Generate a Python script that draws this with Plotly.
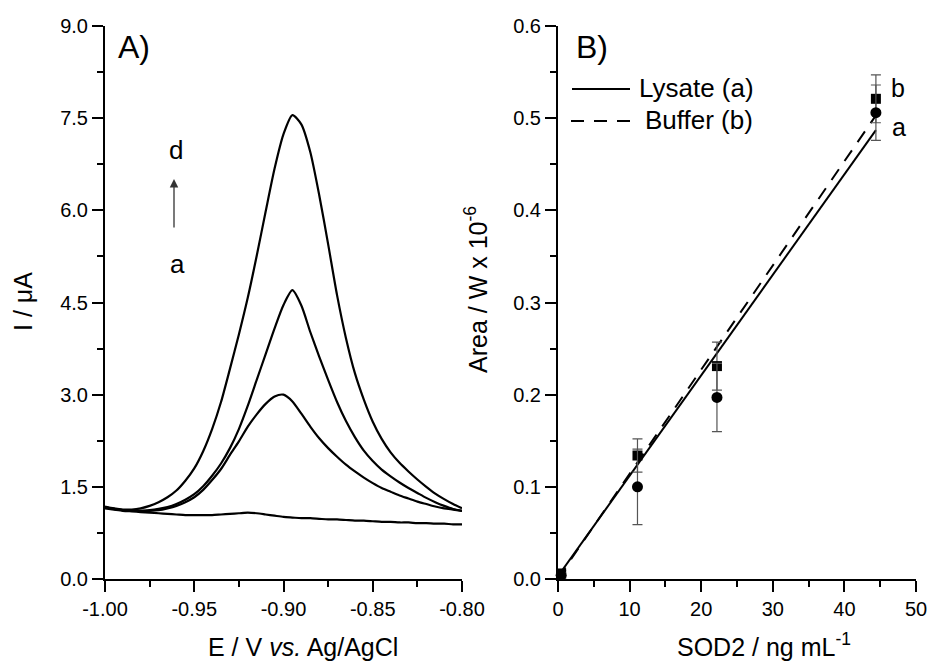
import plotly.graph_objects as go

# ---------------- Panel A data: DPV curves ----------------
potential_E = [-1.000, -0.995, -0.990, -0.985, -0.980, -0.975, -0.970, -0.965, -0.960, -0.955,
               -0.950, -0.945, -0.940, -0.935, -0.930, -0.925, -0.920, -0.915, -0.910, -0.905,
               -0.900, -0.895, -0.890, -0.885, -0.880, -0.875, -0.870, -0.865, -0.860, -0.855,
               -0.850, -0.845, -0.840, -0.835, -0.830, -0.825, -0.820, -0.815, -0.810, -0.805,
               -0.800]

current_a = [1.15, 1.13, 1.11, 1.10, 1.09, 1.08, 1.07, 1.06, 1.05, 1.04,
             1.04, 1.04, 1.04, 1.05, 1.06, 1.07, 1.08, 1.07, 1.05, 1.03,
             1.01, 1.00, 0.99, 0.99, 0.98, 0.97, 0.97, 0.96, 0.95, 0.95,
             0.94, 0.93, 0.93, 0.92, 0.92, 0.91, 0.91, 0.90, 0.90, 0.89,
             0.89]

current_b = [1.17, 1.14, 1.12, 1.11, 1.11, 1.11, 1.12, 1.15, 1.19, 1.25,
             1.33, 1.45, 1.61, 1.79, 2.02, 2.24, 2.48, 2.68, 2.85, 2.97,
             3.00, 2.89, 2.69, 2.48, 2.29, 2.13, 1.99, 1.86, 1.75, 1.65,
             1.56, 1.48, 1.42, 1.36, 1.31, 1.26, 1.22, 1.18, 1.15, 1.13,
             1.11]

current_c = [1.17, 1.14, 1.12, 1.11, 1.11, 1.12, 1.14, 1.17, 1.22, 1.29,
             1.38, 1.51, 1.68, 1.88, 2.13, 2.44, 2.82, 3.24, 3.66, 4.08,
             4.46, 4.70, 4.45, 4.02, 3.62, 3.24, 2.88, 2.57, 2.31, 2.09,
             1.92, 1.78, 1.67, 1.57, 1.48, 1.40, 1.32, 1.25, 1.19, 1.14,
             1.11]

current_d = [1.18, 1.15, 1.13, 1.13, 1.15, 1.19, 1.25, 1.33, 1.44, 1.60,
             1.80, 2.08, 2.44, 2.88, 3.42, 3.98, 4.58, 5.26, 5.98, 6.68,
             7.24, 7.55, 7.40, 6.95, 6.25, 5.45, 4.62, 3.92, 3.35, 2.92,
             2.56, 2.28, 2.06, 1.89, 1.75, 1.62, 1.50, 1.39, 1.30, 1.22,
             1.15]

# ---------------- Panel B data: calibration ----------------
sod2_conc = [0.44, 11.1, 22.2, 44.4]
lysate_area = [0.004, 0.100, 0.197, 0.506]
lysate_err = [0.003, 0.041, 0.037, 0.030]
buffer_area = [0.006, 0.134, 0.231, 0.521]
buffer_err = [0.003, 0.018, 0.026, 0.026]

fit_x = [0.0, 44.4]
lysate_fit = [0.003, 0.487]
buffer_fit = [0.001, 0.503]

legend_names = ["Lysate (a)", "Buffer (b)"]

# ---------------- Tick labels ----------------
a_x_tickvals = [-1.00, -0.95, -0.90, -0.85, -0.80]
a_x_ticktext = ["-1.00", "-0.95", "-0.90", "-0.85", "-0.80"]
a_x_minor = [-0.975, -0.925, -0.875, -0.825]
a_y_tickvals = [0.0, 1.5, 3.0, 4.5, 6.0, 7.5, 9.0]
a_y_ticktext = ["0.0", "1.5", "3.0", "4.5", "6.0", "7.5", "9.0"]
a_y_minor = [0.75, 2.25, 3.75, 5.25, 6.75, 8.25]
b_x_tickvals = [0, 10, 20, 30, 40, 50]
b_x_ticktext = ["0", "10", "20", "30", "40", "50"]
b_x_minor = [5, 15, 25, 35, 45]
b_y_tickvals = [0.0, 0.1, 0.2, 0.3, 0.4, 0.5, 0.6]
b_y_ticktext = ["0.0", "0.1", "0.2", "0.3", "0.4", "0.5", "0.6"]
b_y_minor = [0.05, 0.15, 0.25, 0.35, 0.45, 0.55]

W, H = 929, 661
FONT = "Arial, Liberation Sans, sans-serif"


def px(x):
    return x / W


def py(y):
    return (H - y) / H


fig = go.Figure()

for cur in [current_a, current_b, current_c, current_d]:
    fig.add_trace(go.Scatter(x=potential_E, y=cur, mode="lines",
                             line=dict(color="black", width=2.2, shape="spline", smoothing=0.7),
                             showlegend=False, xaxis="x", yaxis="y", hoverinfo="skip"))

fig.add_trace(go.Scatter(x=fit_x, y=lysate_fit, mode="lines", name=legend_names[0], showlegend=False,
                         line=dict(color="black", width=2), xaxis="x2", yaxis="y2"))
fig.add_trace(go.Scatter(x=fit_x, y=buffer_fit, mode="lines", name=legend_names[1], showlegend=False,
                         line=dict(color="black", width=2, dash="13px,10px"), xaxis="x2", yaxis="y2"))

fig.add_trace(go.Scatter(x=sod2_conc, y=buffer_area, mode="markers", showlegend=False,
                         marker=dict(symbol="square", size=10, color="black"),
                         error_y=dict(type="data", array=buffer_err, visible=True,
                                      color="#555555", thickness=1.2, width=5),
                         cliponaxis=False, xaxis="x2", yaxis="y2"))
fig.add_trace(go.Scatter(x=sod2_conc, y=lysate_area, mode="markers", showlegend=False,
                         marker=dict(symbol="circle", size=11, color="black"),
                         error_y=dict(type="data", array=lysate_err, visible=True,
                                      color="#555555", thickness=1.2, width=5),
                         cliponaxis=False, xaxis="x2", yaxis="y2"))

axis_common = dict(showline=True, linecolor="black", linewidth=2, showgrid=False, zeroline=False,
                   ticks="outside", ticklen=11, tickwidth=2, tickcolor="black", mirror=False,
                   tickfont=dict(family=FONT, size=20, color="black"), tickmode="array",
                   automargin=False)

ydom = [py(579), py(26)]


def minor(vals):
    return dict(tickmode="array", tickvals=vals, ticks="outside", ticklen=6,
                tickwidth=2, tickcolor="black")


fig.update_layout(
    width=W, height=H,
    margin=dict(l=0, r=0, t=0, b=0),
    paper_bgcolor="white", plot_bgcolor="white",
    font=dict(family=FONT, color="black"),
    xaxis=dict(domain=[px(105), px(462)], range=[-1.0, -0.8], anchor="y",
               tickvals=a_x_tickvals, ticktext=a_x_ticktext, minor=minor(a_x_minor), **axis_common),
    yaxis=dict(domain=ydom, range=[0, 9.0], anchor="x",
               tickvals=a_y_tickvals, ticktext=a_y_ticktext, minor=minor(a_y_minor), **axis_common),
    xaxis2=dict(domain=[px(558), px(916)], range=[0, 50], anchor="y2",
                tickvals=b_x_tickvals, ticktext=b_x_ticktext, minor=minor(b_x_minor), **axis_common),
    yaxis2=dict(domain=ydom, range=[0, 0.6], anchor="x2",
                tickvals=b_y_tickvals, ticktext=b_y_ticktext, minor=minor(b_y_minor), **axis_common),
    showlegend=False,
)

# manual legend (line samples + labels)
fig.add_shape(type="line", xref="paper", yref="paper", x0=px(572), x1=px(630), y0=py(89), y1=py(89),
              line=dict(color="black", width=2))
fig.add_shape(type="line", xref="paper", yref="paper", x0=px(571), x1=px(630), y0=py(121), y1=py(121),
              line=dict(color="black", width=2, dash="13px,10px"))
fig.add_annotation(text=legend_names[0], x=px(637), y=py(88), xref="paper", yref="paper",
                   xanchor="left", yanchor="middle", showarrow=False,
                   font=dict(family=FONT, size=26, color="black"))
fig.add_annotation(text=legend_names[1], x=px(643), y=py(120), xref="paper", yref="paper",
                   xanchor="left", yanchor="middle", showarrow=False,
                   font=dict(family=FONT, size=26, color="black"))

annots = [
    dict(text="A)", x=px(134), y=py(47), size=32),
    dict(text="B)", x=px(592), y=py(47), size=32),
    dict(text="d", x=px(176), y=py(150), size=26),
    dict(text="a", x=px(177), y=py(264), size=26),
    dict(text="b", x=px(898), y=py(88), size=25),
    dict(text="a", x=px(899), y=py(127), size=25),
    dict(text="E / V <i>vs.</i> Ag/AgCl", x=px(303), y=py(647), size=25),
    dict(text="SOD2 / ng mL<sup>-1</sup>", x=px(764), y=py(645), size=25),
]
for a in annots:
    fig.add_annotation(text=a["text"], x=a["x"], y=a["y"], xref="paper", yref="paper",
                       xanchor="center", yanchor="middle", showarrow=False,
                       font=dict(family=FONT, size=a["size"], color="black"))

fig.add_annotation(text="I / μA", x=px(23), y=py(302), xref="paper", yref="paper",
                   textangle=-90, showarrow=False, xanchor="center", yanchor="middle",
                   font=dict(family=FONT, size=25, color="black"))
fig.add_annotation(text="Area / W x 10<sup>-6</sup>", x=px(476), y=py(289), xref="paper", yref="paper",
                   textangle=-90, showarrow=False, xanchor="center", yanchor="middle",
                   font=dict(family=FONT, size=25, color="black"))

# arrow a -> d
fig.add_annotation(text=" ", x=px(174), y=py(179), xref="paper", yref="paper",
                   showarrow=True, ax=0, ay=57, arrowhead=2, arrowsize=1.3, arrowwidth=1.3,
                   arrowcolor="#333333", standoff=0, startstandoff=0)

fig.write_html("out.html", config={"displayModeBar": False},
               post_script="document.body.style.margin='0px';document.body.style.overflow='hidden';")
